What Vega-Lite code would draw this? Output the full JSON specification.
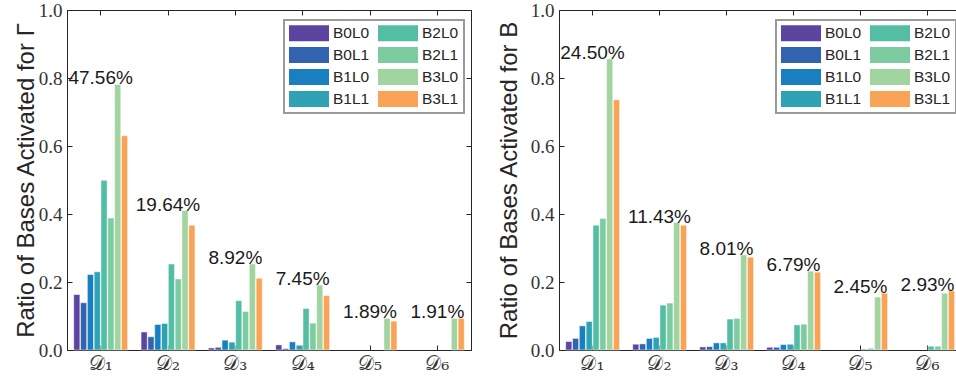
{
  "$schema": "https://vega.github.io/schema/vega-lite/v6.json",
  "padding": {"left": 13, "top": 0, "right": 0, "bottom": 0},
  "background": "white",
  "datasets": {
    "bars": [
      {"panel":"G","dataset":"𝒟₁","series":"B0L0","value":0.163},
      {"panel":"G","dataset":"𝒟₁","series":"B0L1","value":0.139},
      {"panel":"G","dataset":"𝒟₁","series":"B1L0","value":0.222},
      {"panel":"G","dataset":"𝒟₁","series":"B1L1","value":0.230},
      {"panel":"G","dataset":"𝒟₁","series":"B2L0","value":0.499},
      {"panel":"G","dataset":"𝒟₁","series":"B2L1","value":0.388},
      {"panel":"G","dataset":"𝒟₁","series":"B3L0","value":0.781},
      {"panel":"G","dataset":"𝒟₁","series":"B3L1","value":0.630},
      {"panel":"G","dataset":"𝒟₂","series":"B0L0","value":0.053},
      {"panel":"G","dataset":"𝒟₂","series":"B0L1","value":0.039},
      {"panel":"G","dataset":"𝒟₂","series":"B1L0","value":0.075},
      {"panel":"G","dataset":"𝒟₂","series":"B1L1","value":0.078},
      {"panel":"G","dataset":"𝒟₂","series":"B2L0","value":0.253},
      {"panel":"G","dataset":"𝒟₂","series":"B2L1","value":0.209},
      {"panel":"G","dataset":"𝒟₂","series":"B3L0","value":0.410},
      {"panel":"G","dataset":"𝒟₂","series":"B3L1","value":0.367},
      {"panel":"G","dataset":"𝒟₃","series":"B0L0","value":0.006},
      {"panel":"G","dataset":"𝒟₃","series":"B0L1","value":0.008},
      {"panel":"G","dataset":"𝒟₃","series":"B1L0","value":0.029},
      {"panel":"G","dataset":"𝒟₃","series":"B1L1","value":0.023},
      {"panel":"G","dataset":"𝒟₃","series":"B2L0","value":0.145},
      {"panel":"G","dataset":"𝒟₃","series":"B2L1","value":0.113},
      {"panel":"G","dataset":"𝒟₃","series":"B3L0","value":0.253},
      {"panel":"G","dataset":"𝒟₃","series":"B3L1","value":0.211},
      {"panel":"G","dataset":"𝒟₄","series":"B0L0","value":0.015},
      {"panel":"G","dataset":"𝒟₄","series":"B0L1","value":0.004},
      {"panel":"G","dataset":"𝒟₄","series":"B1L0","value":0.024},
      {"panel":"G","dataset":"𝒟₄","series":"B1L1","value":0.014},
      {"panel":"G","dataset":"𝒟₄","series":"B2L0","value":0.122},
      {"panel":"G","dataset":"𝒟₄","series":"B2L1","value":0.079},
      {"panel":"G","dataset":"𝒟₄","series":"B3L0","value":0.191},
      {"panel":"G","dataset":"𝒟₄","series":"B3L1","value":0.160},
      {"panel":"G","dataset":"𝒟₅","series":"B3L0","value":0.093},
      {"panel":"G","dataset":"𝒟₅","series":"B3L1","value":0.085},
      {"panel":"G","dataset":"𝒟₆","series":"B3L0","value":0.093},
      {"panel":"G","dataset":"𝒟₆","series":"B3L1","value":0.093},
      {"panel":"B","dataset":"𝒟₁","series":"B0L0","value":0.025},
      {"panel":"B","dataset":"𝒟₁","series":"B0L1","value":0.034},
      {"panel":"B","dataset":"𝒟₁","series":"B1L0","value":0.071},
      {"panel":"B","dataset":"𝒟₁","series":"B1L1","value":0.084},
      {"panel":"B","dataset":"𝒟₁","series":"B2L0","value":0.367},
      {"panel":"B","dataset":"𝒟₁","series":"B2L1","value":0.387},
      {"panel":"B","dataset":"𝒟₁","series":"B3L0","value":0.856},
      {"panel":"B","dataset":"𝒟₁","series":"B3L1","value":0.736},
      {"panel":"B","dataset":"𝒟₂","series":"B0L0","value":0.017},
      {"panel":"B","dataset":"𝒟₂","series":"B0L1","value":0.018},
      {"panel":"B","dataset":"𝒟₂","series":"B1L0","value":0.034},
      {"panel":"B","dataset":"𝒟₂","series":"B1L1","value":0.037},
      {"panel":"B","dataset":"𝒟₂","series":"B2L0","value":0.132},
      {"panel":"B","dataset":"𝒟₂","series":"B2L1","value":0.138},
      {"panel":"B","dataset":"𝒟₂","series":"B3L0","value":0.375},
      {"panel":"B","dataset":"𝒟₂","series":"B3L1","value":0.367},
      {"panel":"B","dataset":"𝒟₃","series":"B0L0","value":0.009},
      {"panel":"B","dataset":"𝒟₃","series":"B0L1","value":0.010},
      {"panel":"B","dataset":"𝒟₃","series":"B1L0","value":0.021},
      {"panel":"B","dataset":"𝒟₃","series":"B1L1","value":0.021},
      {"panel":"B","dataset":"𝒟₃","series":"B2L0","value":0.091},
      {"panel":"B","dataset":"𝒟₃","series":"B2L1","value":0.093},
      {"panel":"B","dataset":"𝒟₃","series":"B3L0","value":0.280},
      {"panel":"B","dataset":"𝒟₃","series":"B3L1","value":0.273},
      {"panel":"B","dataset":"𝒟₄","series":"B0L0","value":0.008},
      {"panel":"B","dataset":"𝒟₄","series":"B0L1","value":0.008},
      {"panel":"B","dataset":"𝒟₄","series":"B1L0","value":0.016},
      {"panel":"B","dataset":"𝒟₄","series":"B1L1","value":0.017},
      {"panel":"B","dataset":"𝒟₄","series":"B2L0","value":0.074},
      {"panel":"B","dataset":"𝒟₄","series":"B2L1","value":0.076},
      {"panel":"B","dataset":"𝒟₄","series":"B3L0","value":0.232},
      {"panel":"B","dataset":"𝒟₄","series":"B3L1","value":0.229},
      {"panel":"B","dataset":"𝒟₅","series":"B2L0","value":0.003},
      {"panel":"B","dataset":"𝒟₅","series":"B2L1","value":0.005},
      {"panel":"B","dataset":"𝒟₅","series":"B3L0","value":0.156},
      {"panel":"B","dataset":"𝒟₅","series":"B3L1","value":0.167},
      {"panel":"B","dataset":"𝒟₆","series":"B2L0","value":0.011},
      {"panel":"B","dataset":"𝒟₆","series":"B2L1","value":0.011},
      {"panel":"B","dataset":"𝒟₆","series":"B3L0","value":0.167},
      {"panel":"B","dataset":"𝒟₆","series":"B3L1","value":0.174}
    ],
    "labels": [
      {"panel":"G","dataset":"𝒟₁","label":"47.56%","top":0.781},
      {"panel":"G","dataset":"𝒟₂","label":"19.64%","top":0.410},
      {"panel":"G","dataset":"𝒟₃","label":"8.92%","top":0.253},
      {"panel":"G","dataset":"𝒟₄","label":"7.45%","top":0.191},
      {"panel":"G","dataset":"𝒟₅","label":"1.89%","top":0.093},
      {"panel":"G","dataset":"𝒟₆","label":"1.91%","top":0.093},
      {"panel":"B","dataset":"𝒟₁","label":"24.50%","top":0.856},
      {"panel":"B","dataset":"𝒟₂","label":"11.43%","top":0.375},
      {"panel":"B","dataset":"𝒟₃","label":"8.01%","top":0.280},
      {"panel":"B","dataset":"𝒟₄","label":"6.79%","top":0.232},
      {"panel":"B","dataset":"𝒟₅","label":"2.45%","top":0.167},
      {"panel":"B","dataset":"𝒟₆","label":"2.93%","top":0.174}
    ]
  },
  "config": {
    "view": {"stroke": "#262626", "strokeWidth": 1},
    "axis": {
      "grid": false,
      "domainColor": "#262626",
      "tickColor": "#262626",
      "tickSize": -5,
      "labelColor": "#333333",
      "titleColor": "#262626"
    },
    "legend": {
      "orient": "none",
      "legendX": 217,
      "legendY": 10,
      "columns": 2,
      "padding": 5,
      "strokeColor": "#9a9a9a",
      "strokeWidth": 2,
      "fillColor": "white",
      "symbolType": "M-1,-1H4V1H-1Z",
      "symbolSize": 256,
      "symbolStrokeWidth": 0,
      "symbolOpacity": 1,
      "labelOffset": 28,
      "labelFont": "Liberation Sans",
      "labelFontSize": 15.5,
      "labelColor": "#262626",
      "columnPadding": 8,
      "rowPadding": 5,
      "title": null
    }
  },
  "resolve": {"scale": {"color": "independent"}, "legend": {"color": "independent"}},
  "spacing": 24,
  "hconcat": [
    {
      "width": 404,
      "height": 340,
      "layer": [
        {
          "data": {"name": "bars"},
          "transform": [{"filter": "datum.panel === 'G'"}],
          "mark": {"type": "bar", "stroke": "white", "strokeOpacity": 0.6, "strokeWidth": 0.8},
          "encoding": {
            "x": {"field": "dataset", "type": "nominal", "sort": ["𝒟₁","𝒟₂","𝒟₃","𝒟₄","𝒟₅","𝒟₆"],
              "scale": {"paddingInner": 0.2, "paddingOuter": 0.1},
              "axis": {"orient": "bottom", "title": null, "labelAngle": 0, "labelFont": "DejaVu Serif", "labelFontSize": 20, "labelPadding": 8, "labelColor": "#333333"}},
            "xOffset": {"field": "series", "type": "nominal", "sort": ["B0L0","B0L1","B1L0","B1L1","B2L0","B2L1","B3L0","B3L1"], "scale": {"paddingInner": 0.1}},
            "y": {"field": "value", "type": "quantitative", "scale": {"domain": [0, 1]},
              "axis": {"orient": "left", "title": "Ratio of Bases Activated for Γ", "values": [0, 0.2, 0.4, 0.6, 0.8, 1.0], "format": ".1f",
                "labelFont": "Liberation Serif", "labelFontSize": 19, "labelPadding": 10, "titleFont": "Liberation Sans", "titleFontSize": 24, "titleFontWeight": "normal", "titlePadding": 0}},
            "color": {"field": "series", "type": "nominal",
              "scale": {"domain": ["B0L0","B0L1","B1L0","B1L1","B2L0","B2L1","B3L0","B3L1"],
                "range": ["#5b45a0","#3263b0","#1a7fc0","#2fa3b4","#53bea4","#7ccba1","#a2d49f","#f8a356"]}}
          }
        },
        {
          "data": {"name": "labels"},
          "transform": [{"filter": "datum.panel === 'G'"}],
          "mark": {"type": "text", "baseline": "alphabetic", "align": "center", "font": "Liberation Sans", "fontSize": 19, "color": "#1a1a1a"},
          "encoding": {
            "x": {"field": "dataset", "type": "nominal", "sort": ["𝒟₁","𝒟₂","𝒟₃","𝒟₄","𝒟₅","𝒟₆"], "axis": {"orient": "top", "labels": false, "title": null}},
            "y": {"field": "top", "type": "quantitative", "axis": {"orient": "right", "labels": false, "title": null, "values": [0, 0.2, 0.4, 0.6, 0.8, 1.0]}},
            "text": {"field": "label"}
          }
        }
      ],
      "resolve": {"axis": {"x": "independent", "y": "independent"}}
    },
    {
      "width": 402,
      "height": 340,
      "layer": [
        {
          "data": {"name": "bars"},
          "transform": [{"filter": "datum.panel === 'B'"}],
          "mark": {"type": "bar", "stroke": "white", "strokeOpacity": 0.6, "strokeWidth": 0.8},
          "encoding": {
            "x": {"field": "dataset", "type": "nominal", "sort": ["𝒟₁","𝒟₂","𝒟₃","𝒟₄","𝒟₅","𝒟₆"],
              "scale": {"paddingInner": 0.2, "paddingOuter": 0.1},
              "axis": {"orient": "bottom", "title": null, "labelAngle": 0, "labelFont": "DejaVu Serif", "labelFontSize": 20, "labelPadding": 8, "labelColor": "#333333"}},
            "xOffset": {"field": "series", "type": "nominal", "sort": ["B0L0","B0L1","B1L0","B1L1","B2L0","B2L1","B3L0","B3L1"], "scale": {"paddingInner": 0.1}},
            "y": {"field": "value", "type": "quantitative", "scale": {"domain": [0, 1]},
              "axis": {"orient": "left", "title": "Ratio of Bases Activated for B", "values": [0, 0.2, 0.4, 0.6, 0.8, 1.0], "format": ".1f",
                "labelFont": "Liberation Serif", "labelFontSize": 19, "labelPadding": 10, "titleFont": "Liberation Sans", "titleFontSize": 24, "titleFontWeight": "normal", "titlePadding": 9}},
            "color": {"field": "series", "type": "nominal",
              "scale": {"domain": ["B0L0","B0L1","B1L0","B1L1","B2L0","B2L1","B3L0","B3L1"],
                "range": ["#5b45a0","#3263b0","#1a7fc0","#2fa3b4","#53bea4","#7ccba1","#a2d49f","#f8a356"]}}
          }
        },
        {
          "data": {"name": "labels"},
          "transform": [{"filter": "datum.panel === 'B'"}],
          "mark": {"type": "text", "baseline": "alphabetic", "align": "center", "font": "Liberation Sans", "fontSize": 19, "color": "#1a1a1a"},
          "encoding": {
            "x": {"field": "dataset", "type": "nominal", "sort": ["𝒟₁","𝒟₂","𝒟₃","𝒟₄","𝒟₅","𝒟₆"], "axis": {"orient": "top", "labels": false, "title": null}},
            "y": {"field": "top", "type": "quantitative", "axis": {"orient": "right", "labels": false, "title": null, "values": [0, 0.2, 0.4, 0.6, 0.8, 1.0]}},
            "text": {"field": "label"}
          }
        }
      ],
      "resolve": {"axis": {"x": "independent", "y": "independent"}}
    }
  ]
}
